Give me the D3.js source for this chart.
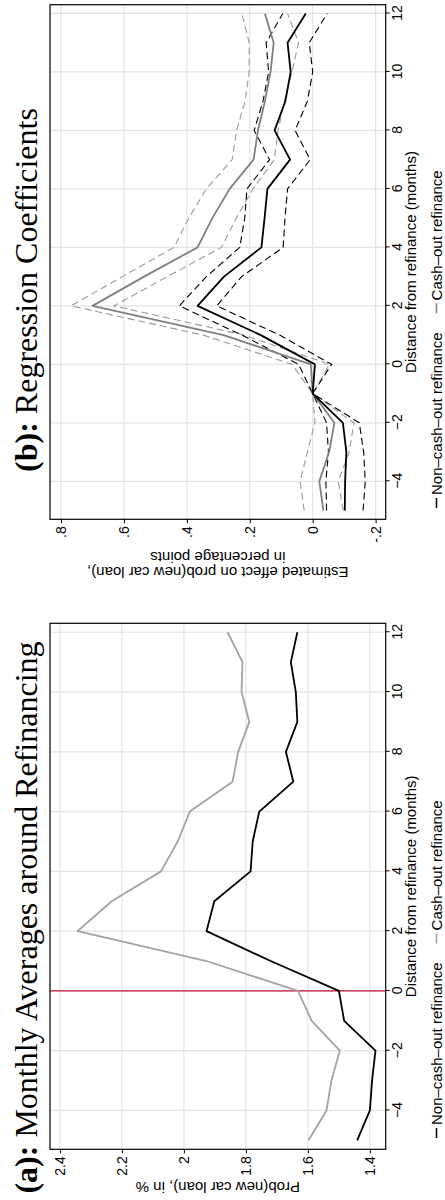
<!DOCTYPE html>
<html>
<head>
<meta charset="utf-8">
<script src="https://cdn.jsdelivr.net/npm/d3@7"></script>
<style>
  body { margin: 0; background: #fff; }
  svg { display: block; }
</style>
</head>
<body>
<div id="chart"></div>
<script>
// months relative to refinance
const months = [-5, -4, -3, -2, -1, 0, 1, 2, 3, 4, 5, 6, 7, 8, 9, 10, 11, 12];
const monthTicks = [-4, -2, 0, 2, 4, 6, 8, 10, 12];

// panel (a): monthly averages, prob(new car loan) in %
const probTicks = [1.4, 1.6, 1.8, 2, 2.2, 2.4];
const probTickLabels = ["1.4", "1.6", "1.8", "2", "2.2", "2.4"];
const avgNonCash = [1.441, 1.400, 1.393, 1.382, 1.483, 1.500, 1.720, 1.927, 1.902, 1.785, 1.778, 1.757, 1.647, 1.671, 1.634, 1.639, 1.655, 1.634];
const avgCash = [1.598, 1.540, 1.524, 1.497, 1.588, 1.632, 1.927, 2.343, 2.233, 2.074, 2.020, 1.981, 1.843, 1.825, 1.789, 1.814, 1.811, 1.859];

// panel (b): regression coefficients with confidence bands
const coefTicks = [-0.2, 0, 0.2, 0.4, 0.6, 0.8];
const coefTickLabels = ["-.2", "0", ".2", ".4", ".6", ".8"];
const coefNonCash = [-0.102, -0.103, -0.107, -0.096, 0, -0.007, 0.165, 0.366, 0.282, 0.163, 0.153, 0.144, 0.072, 0.121, 0.087, 0.070, 0.080, 0.022];
const coefNonCashHi = [-0.044, -0.042, -0.050, -0.044, 0, 0.045, 0.225, 0.424, 0.338, 0.232, 0.216, 0.209, 0.137, 0.186, 0.158, 0.140, 0.148, 0.095];
const coefNonCashLo = [-0.160, -0.167, -0.162, -0.148, 0, -0.060, 0.105, 0.305, 0.226, 0.094, 0.088, 0.080, 0.008, 0.056, 0.017, 0.000, 0.011, -0.046];
const coefCash = [-0.034, -0.021, -0.052, -0.069, 0, 0.006, 0.283, 0.700, 0.536, 0.366, 0.319, 0.264, 0.188, 0.174, 0.152, 0.134, 0.124, 0.152];
const coefCashHi = [0.027, 0.040, 0.017, -0.007, 0, 0.066, 0.348, 0.768, 0.605, 0.441, 0.394, 0.338, 0.256, 0.242, 0.215, 0.202, 0.202, 0.225];
const coefCashLo = [-0.097, -0.081, -0.116, -0.131, 0, -0.053, 0.218, 0.632, 0.462, 0.290, 0.243, 0.190, 0.122, 0.110, 0.090, 0.066, 0.045, 0.080];

const legendLabels = ["Non\u2013cash\u2013out refinance", "Cash\u2013out refinance"];
const xTitle = "Distance from refinance (months)";

const sans = "'Liberation Sans', Arial, Helvetica, sans-serif";
const serif = "'Liberation Serif', 'Times New Roman', serif";

// figure is drawn upright (1200 x 445) and turned a quarter turn
const svg = d3.select('#chart')
  .append('svg')
  .attr('width', 445)
  .attr('height', 1200);

const fig = svg.append('g')
  .attr('transform', 'translate(0,1200) rotate(-90)');

const plotTop = 50;
const plotBottom = 385.7;

const panels = [
  {
    left: 50.7, right: 576.7, titleCenter: 282.5,
    tag: "(a):", title: " Monthly Averages around Refinancing",
    yDomain: [1.349, 2.432], yTicks: probTicks, yTickLabels: probTickLabels,
    yTitle: ["Prob(new car loan), in %"],
    refLine: 0,
    legendColors: ['#000', '#a3a3a3'],
    series: [
      { values: avgCash, color: '#a3a3a3', width: 1.8 },
      { values: avgNonCash, color: '#000', width: 1.8 }
    ]
  },
  {
    left: 680.7, right: 1195.3, titleCenter: 910,
    tag: "(b):", title: " Regression Coefficients",
    yDomain: [-0.232, 0.835], yTicks: coefTicks, yTickLabels: coefTickLabels,
    yTitle: ["Estimated effect on prob(new car loan),", "in percentage points"],
    refLine: null,
    legendColors: ['#000', '#7f7f7f'],
    series: [
      { values: coefCashHi, color: '#9a9a9a', width: 1.1, dash: '7,4' },
      { values: coefCashLo, color: '#9a9a9a', width: 1.1, dash: '7,4' },
      { values: coefNonCashHi, color: '#000', width: 1.1, dash: '7,4' },
      { values: coefNonCashLo, color: '#000', width: 1.1, dash: '7,4' },
      { values: coefCash, color: '#7f7f7f', width: 1.8 },
      { values: coefNonCash, color: '#000', width: 1.8 }
    ]
  }
];

panels.forEach(drawPanel);

function drawPanel(p) {
  const g = fig.append('g');

  const x = d3.scaleLinear().domain([-5.3, 12.3]).range([p.left, p.right]);
  const y = d3.scaleLinear().domain(p.yDomain).range([plotBottom, plotTop]);

  // grid
  g.selectAll('.vgrid')
    .data(monthTicks)
    .enter()
    .append('line')
    .attr('x1', d => x(d)).attr('x2', d => x(d))
    .attr('y1', plotTop).attr('y2', plotBottom)
    .attr('stroke', '#e3e3e3')
    .attr('stroke-width', 1.2);

  g.selectAll('.hgrid')
    .data(p.yTicks)
    .enter()
    .append('line')
    .attr('x1', p.left).attr('x2', p.right)
    .attr('y1', d => y(d)).attr('y2', d => y(d))
    .attr('stroke', '#e3e3e3')
    .attr('stroke-width', 1.2);

  if (p.refLine !== null) {
    g.append('line')
      .attr('x1', x(p.refLine)).attr('x2', x(p.refLine))
      .attr('y1', plotTop).attr('y2', plotBottom)
      .attr('stroke', '#c8103c')
      .attr('stroke-width', 1.3);
  }

  const line = d3.line()
    .x(d => x(d[0]))
    .y(d => y(d[1]));

  p.series.forEach(s => {
    g.append('path')
      .datum(months.map((m, i) => [m, s.values[i]]))
      .attr('d', line)
      .attr('fill', 'none')
      .attr('stroke', s.color)
      .attr('stroke-width', s.width)
      .attr('stroke-dasharray', s.dash || null)
      .attr('stroke-linejoin', 'round');
  });

  // frame
  g.append('rect')
    .attr('x', p.left)
    .attr('y', plotTop)
    .attr('width', p.right - p.left)
    .attr('height', plotBottom - plotTop)
    .attr('fill', 'none')
    .attr('stroke', '#000')
    .attr('stroke-width', 1.2);

  // axes
  const xAxis = g.append('g')
    .attr('transform', `translate(0,${plotBottom})`)
    .call(d3.axisBottom(x).tickValues(monthTicks).tickSize(4).tickPadding(2))
    .attr('font-size', 14)
    .attr('font-family', sans);
  xAxis.select('.domain').remove();

  const yAxis = g.append('g')
    .attr('transform', `translate(${p.left},0)`)
    .call(d3.axisLeft(y).tickValues(p.yTicks).tickSize(4).tickPadding(3)
      .tickFormat((d, i) => p.yTickLabels[i]))
    .attr('font-size', 14)
    .attr('font-family', sans);
  yAxis.select('.domain').remove();

  // axis titles
  g.append('text')
    .attr('x', (p.left + p.right) / 2)
    .attr('y', 416)
    .attr('text-anchor', 'middle')
    .attr('font-family', sans)
    .attr('font-size', 15)
    .text(xTitle);

  const yMid = (plotTop + plotBottom) / 2;
  p.yTitle.forEach((t, i) => {
    const off = p.yTitle.length === 1 ? 32.4 : 47.7 - i * 15.3;
    g.append('text')
      .attr('transform', `translate(${p.left - off},${yMid}) rotate(-90)`)
      .attr('text-anchor', 'middle')
      .attr('font-family', sans)
      .attr('font-size', 15)
      .text(t);
  });

  // legend
  let u = p.left + 11.3;
  legendLabels.forEach((lab, i) => {
    g.append('line')
      .attr('x1', u).attr('x2', u + 10)
      .attr('y1', 436.5).attr('y2', 436.5)
      .attr('stroke', p.legendColors[i])
      .attr('stroke-width', 1.5);
    const t = g.append('text')
      .attr('x', u + 13)
      .attr('y', 441.5)
      .attr('font-family', sans)
      .attr('font-size', 15)
      .text(lab);
    u += 13 + t.node().getComputedTextLength() + 19;
  });

  // panel title
  const title = g.append('text')
    .attr('x', p.titleCenter)
    .attr('y', 36.5)
    .attr('text-anchor', 'middle')
    .attr('font-family', serif)
    .attr('font-size', 32);
  title.append('tspan').attr('font-weight', 'bold').text(p.tag);
  title.append('tspan').text(p.title);
}
</script>
</body>
</html>
